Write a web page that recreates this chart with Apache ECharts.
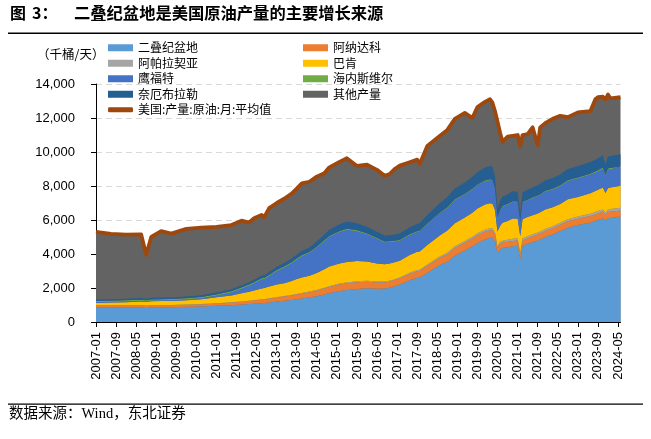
<!DOCTYPE html>
<html><head><meta charset="utf-8">
<script src="https://cdn.jsdelivr.net/npm/echarts@6/dist/echarts.min.js"></script>
<style>html,body{margin:0;padding:0;background:#fff}#c{width:651px;height:439px}</style>
</head><body><div id="c"></div>
<script>
// sample months
const dates = ['2007-01','2007-07','2008-01','2008-07','2008-09','2008-11','2009-03','2009-07','2010-01','2010-07',
'2011-01','2011-07','2011-11','2012-02','2012-04','2012-07','2012-08','2012-10','2013-01','2013-04',
'2013-07','2013-09','2013-11','2014-02','2014-05','2014-08','2014-10','2015-02','2015-05','2015-09',
'2016-01','2016-05','2016-08','2016-10','2016-12','2017-02','2017-06','2017-09','2017-10','2018-01',
'2018-06','2018-09','2018-12','2019-04','2019-07','2019-09','2019-12','2020-02','2020-03','2020-04',
'2020-05','2020-06','2020-07','2020-09','2020-11','2021-01','2021-02','2021-03','2021-05','2021-07',
'2021-09','2021-10','2021-12','2022-03','2022-06','2022-09','2023-01','2023-06','2023-08','2023-09',
'2023-11','2023-12','2024-01','2024-02','2024-06'];

// 美国:产量:原油:月:平均值 (top of the stack)
const usTotal = [5300,5180,5140,5160,3950,5000,5350,5200,5480,5550,
5600,5700,5960,5850,6100,6300,6150,6700,7000,7250,
7550,7850,8150,8250,8550,8750,9100,9420,9630,9180,
9250,8950,8600,8700,9000,9200,9400,9550,9300,10350,
10950,11300,11950,12300,12000,12650,12950,13100,12900,12400,
11800,11150,10600,10900,10950,11000,10350,11000,11050,11450,
10400,11450,11700,11950,12130,12050,12330,12400,13100,13220,
13250,13100,13380,13150,13220];

const permian = [860,860,860,860,830,860,870,870,890,910,
950,990,1030,1060,1080,1110,1120,1150,1200,1250,
1300,1340,1380,1450,1520,1620,1700,1820,1880,1940,
1980,1960,1970,2020,2100,2200,2450,2600,2620,2900,
3350,3550,3900,4200,4450,4650,4850,4950,4950,4750,
4050,4300,4350,4400,4450,4480,3700,4480,4600,4700,
4800,4850,5000,5150,5350,5550,5700,5850,5950,6000,
6100,5950,6100,6120,6200];

const anadarko = [110,110,115,120,115,120,115,115,120,125,
135,145,160,170,180,200,195,215,230,245,
260,275,285,300,320,350,365,390,400,400,
390,370,360,360,365,370,380,390,390,410,
430,440,450,455,460,460,455,445,440,410,
300,310,320,320,320,320,260,320,330,340,
345,350,350,360,370,370,380,380,380,380,
380,350,370,370,360];

const appalachia = [20,20,20,20,20,20,20,20,20,20,
20,20,22,25,25,25,25,28,30,30,
32,35,35,38,40,42,45,48,50,50,
50,50,50,50,52,55,60,62,62,70,
80,90,100,105,110,115,120,125,130,125,
100,110,115,120,120,120,100,120,120,120,
120,120,120,120,120,125,130,140,140,145,
145,140,150,150,155];

const bakken = [130,150,170,200,205,215,225,235,255,290,
350,400,480,530,570,640,660,700,740,760,
820,880,920,930,1000,1090,1150,1180,1200,1200,
1140,1060,1010,1010,1000,980,1050,1080,1080,1150,
1230,1300,1360,1380,1410,1450,1480,1460,1440,1300,
880,920,1050,1100,1200,1150,1000,1120,1120,1120,
1120,1130,1150,1120,1100,1170,1150,1200,1230,1250,
1290,1150,1250,1270,1300];

const eagleFord = [50,50,50,50,45,50,50,50,55,70,
110,190,280,360,430,540,530,620,800,920,
1050,1150,1250,1350,1500,1650,1750,1850,1900,1750,
1600,1450,1300,1260,1220,1180,1180,1160,1180,1230,
1300,1330,1370,1370,1370,1380,1380,1370,1360,1250,
800,900,950,960,980,980,780,980,990,1000,
1020,1030,1040,1050,1060,1080,1090,1100,1100,1100,
1120,1000,1100,1090,1080];

const haynesville = [60,60,60,60,60,60,60,60,60,60,
60,60,60,55,55,55,55,55,55,55,
55,55,55,50,50,50,50,50,50,50,
45,45,45,45,45,40,40,40,40,40,
40,40,40,40,40,40,40,40,40,38,
30,35,35,35,35,35,30,35,38,40,
40,40,40,40,40,45,45,50,50,50,
55,50,55,55,55];

const niobrara = [90,90,90,95,95,95,95,95,95,100,
105,115,125,135,145,160,160,175,190,205,
225,240,255,270,300,340,370,410,430,420,
400,370,350,360,370,380,420,440,450,500,
560,600,640,660,690,720,760,770,770,700,
500,540,560,560,580,570,480,570,580,590,
600,610,620,630,640,660,670,690,700,710,
720,620,710,710,720];

// monthly tick labels 2007-01 .. 2024-06
const tickMonths = [];
for (let y = 2007; y <= 2024; y++) {
  for (let m = 1; m <= 12; m++) {
    if (y === 2024 && m > 6) break;
    tickMonths.push(y + '-' + (m < 10 ? '0' + m : m));
  }
}

function ts(s) { const p = s.split('-'); return new Date(+p[0], +p[1] - 1, 1).getTime(); }
function pts(arr) { return dates.map((d, i) => [ts(d), arr[i]]); }

const CJK = '"Noto Sans CJK SC", sans-serif';
const regions = [
  { name: '二叠纪盆地', data: permian, color: '#5B9BD5' },
  { name: '阿纳达科', data: anadarko, color: '#ED7D31' },
  { name: '阿帕拉契亚', data: appalachia, color: '#A5A5A5' },
  { name: '巴肯', data: bakken, color: '#FFC000' },
  { name: '鹰福特', data: eagleFord, color: '#4472C4' },
  { name: '海内斯维尔', data: haynesville, color: '#70AD47' },
  { name: '奈厄布拉勒', data: niobrara, color: '#255E91' }
];
const LINE_NAME = '美国:产量:原油:月:平均值';

const series = [];
series.push({
  name: '其他产量', type: 'line', xAxisIndex: 0, yAxisIndex: 0, data: pts(usTotal),
  symbol: 'none', showSymbol: false, lineStyle: { width: 0 },
  itemStyle: { color: '#636363' }, areaStyle: { color: '#636363', opacity: 1 }, z: 1
});
regions.forEach(r => series.push({
  name: r.name, type: 'line', xAxisIndex: 0, yAxisIndex: 0, stack: 'regions', data: pts(r.data),
  symbol: 'none', showSymbol: false, lineStyle: { width: 0 },
  itemStyle: { color: r.color }, areaStyle: { color: r.color, opacity: 1 }, z: 2
}));
series.push({
  name: LINE_NAME, type: 'line', xAxisIndex: 0, yAxisIndex: 0, data: pts(usTotal),
  symbol: 'none', showSymbol: false, lineStyle: { width: 3.8, color: '#9E480E', join: 'round' },
  itemStyle: { color: '#9E480E' }, z: 3
});

const legTxt = { fontFamily: CJK, fontSize: 12, color: '#000', lineHeight: 15.5 };
const chart = echarts.init(document.getElementById('c'));
chart.setOption({
  animation: false,
  backgroundColor: '#fff',
  grid: { left: 96, right: 30.5, top: 84, bottom: 117, containLabel: false },
  legend: [
    { orient: 'vertical', left: 108, top: 40, padding: 0, itemGap: 0, itemWidth: 25, itemHeight: 7, icon: 'rect',
      data: ['二叠纪盆地', '阿帕拉契亚', '鹰福特', '奈厄布拉勒'], textStyle: legTxt },
    { orient: 'vertical', left: 303, top: 40, padding: 0, itemGap: 0, itemWidth: 25, itemHeight: 7, icon: 'rect',
      data: ['阿纳达科', '巴肯', '海内斯维尔', '其他产量'], textStyle: legTxt },
    { orient: 'vertical', left: 108, top: 102, padding: 0, itemGap: 0, itemWidth: 25, itemHeight: 5, icon: 'roundRect',
      data: [LINE_NAME], textStyle: legTxt }
  ],
  xAxis: [
    { type: 'time', min: ts('2007-01'), max: ts('2024-06'), show: false },
    { type: 'category', data: tickMonths, boundaryGap: false, position: 'bottom',
      axisLine: { show: true, lineStyle: { color: '#000', width: 1 } },
      axisTick: { show: true, interval: 7, length: 5, lineStyle: { color: '#000' } },
      axisLabel: { interval: 7, rotate: 90, margin: 10, fontSize: 13, color: '#000', fontFamily: '"Liberation Sans", Arial, sans-serif' },
      splitLine: { show: false } }
  ],
  yAxis: {
    type: 'value', min: 0, max: 14000, interval: 2000,
    axisLine: { show: true, lineStyle: { color: '#000', width: 1 } },
    axisTick: { show: true, inside: false, length: 5, lineStyle: { color: '#000' } },
    axisLabel: { margin: 21, fontSize: 13, color: '#000', fontFamily: '"Liberation Sans", Arial, sans-serif',
      formatter: v => v.toLocaleString('en-US') },
    splitLine: { show: true, lineStyle: { color: '#D9D9D9', type: [6, 4], width: 1 } }
  },
  series: series,
  graphic: [
    { type: 'text', left: 10, top: 5, style: { text: '图', font: 'bold 16px ' + CJK, fill: '#000' } },
    { type: 'text', left: 32, top: 5, style: { text: '3：', font: 'bold 16px ' + CJK, fill: '#000' } },
    { type: 'text', left: 74, top: 5, style: { text: '二叠纪盆地是美国原油产量的主要增长来源', font: 'bold 16.3px ' + CJK, fill: '#000' } },
    { type: 'rect', shape: { x: 8, y: 32.5, width: 635, height: 1.5 }, style: { fill: '#000' } },
    { type: 'text', left: 37, top: 48, style: { text: '（千桶/天）', font: '12.5px ' + CJK, fill: '#000' } },
    { type: 'rect', shape: { x: 8, y: 403.5, width: 635, height: 1.3 }, style: { fill: '#000' } },
    { type: 'text', left: 9, top: 407, style: { text: '数据来源：Wind，东北证券', font: '14.5px "Liberation Serif", ' + CJK, fill: '#000' } }
  ]
});
</script>
</body></html>
